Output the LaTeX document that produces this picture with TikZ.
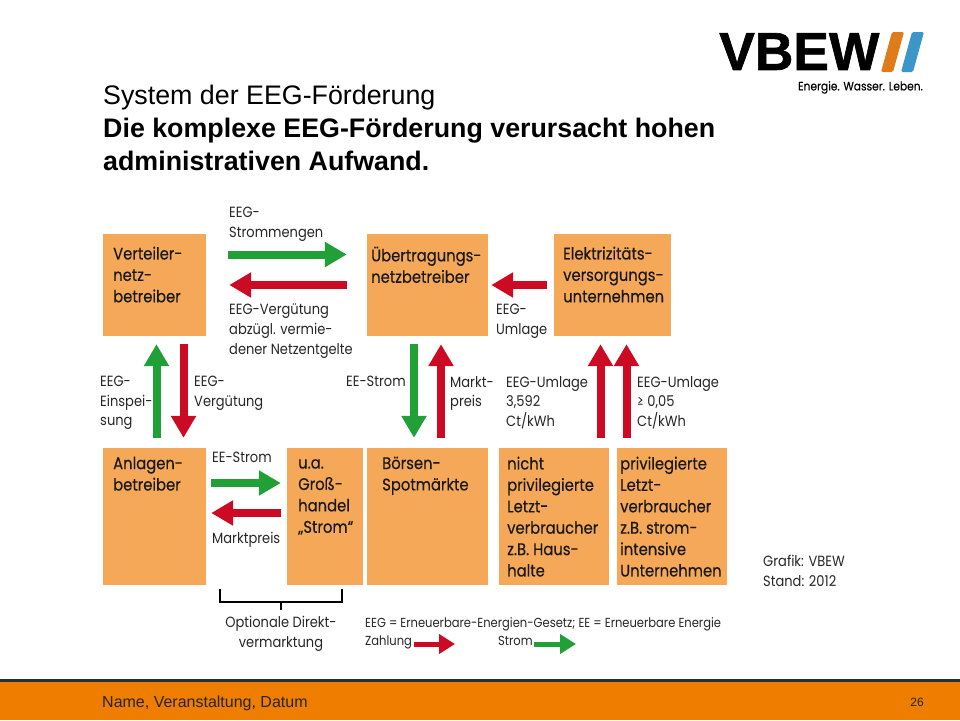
\documentclass[tikz,border=0pt]{standalone}
\usepackage{fontspec}
\setmainfont{Liberation Sans}
\newfontfamily\diafont[FakeStretch=0.88]{Poppins}
\newfontfamily\dialight[FakeStretch=0.88,FakeBold=0.25]{Poppins}
\newfontfamily\logofont[FakeBold=1.2]{Liberation Sans Bold}
\usetikzlibrary{arrows.meta}
\definecolor{boxorange}{HTML}{F5A858}
\definecolor{barorange}{HTML}{EF7D00}
\definecolor{bardark}{HTML}{263030}
\definecolor{stromgreen}{HTML}{22A038}
\definecolor{zahlred}{HTML}{CC0A24}
\definecolor{logoblue}{HTML}{3C97C8}
\definecolor{logoorange}{HTML}{E07B1A}
\tikzset{
  orangebox/.style={fill=boxorange, inner sep=0pt, minimum height=102pt},
  lowbox/.style={orangebox, minimum height=137pt},
  boxtext/.style={anchor=north west, align=left, inner sep=0pt, font=\dialight\fontsize{16.8}{21.4}\selectfont, text=black!90},
  note/.style={anchor=north west, align=left, inner sep=0pt, font=\diafont\fontsize{14.8}{19.6}\selectfont, text=black!85},
  smallnote/.style={note, font=\diafont\fontsize{13.1}{19}\selectfont},
  heading/.style={anchor=north west, align=left, inner sep=0pt, font=\fontsize{26.8}{33}\selectfont},
  strom/.style={-{Triangle[length=22pt,width=24pt]}, line width=8pt, stromgreen},
  zahlung/.style={-{Triangle[length=22pt,width=24pt]}, line width=8pt, zahlred},
  keystrom/.style={-{Triangle[length=16pt,width=19pt]}, line width=5pt, stromgreen},
  keyzahlung/.style={-{Triangle[length=16pt,width=19pt]}, line width=5pt, zahlred}
}
\begin{document}
\begin{tikzpicture}[x=1pt,y=-1pt]
  \useasboundingbox (0,0) rectangle (960,720);
  % footer
  \fill[barorange] (0,682) rectangle (960,720);
  \fill[bardark] (0,679) rectangle (960,682);
  \node[anchor=west, inner sep=0pt, font=\fontsize{16}{18}\selectfont, text=black!85] (event) at (102,703) {Name, Veranstaltung, Datum};
  \node[anchor=center, inner sep=0pt, font=\fontsize{12}{14}\selectfont, text=black!85] (pagenum) at (917,702) {26};
  % logo
  \node[anchor=north west, inner sep=0pt, font=\logofont\fontsize{53.4}{54}\selectfont] (logo) at (719,33) {VBEW};
  \fill[logoorange, rounded corners=1.5pt] (892,32) -- (904,32) -- (893,72) -- (881,72) -- cycle;
  \fill[logoblue, rounded corners=1.5pt] (912,32) -- (924,32) -- (913,72) -- (901,72) -- cycle;
  \node[anchor=north east, inner sep=0pt, font=\dialight\fontsize{12.1}{14}\selectfont] (claim) at (923,81) {Energie. Wasser. Leben.};
  % title
  \node[heading] (title) at (103,84.5) {System der EEG-Förderung\\\textbf{Die komplexe EEG-Förderung verursacht hohen}\\\textbf{administrativen Aufwand.}};
  % boxes
  \node[orangebox, minimum width=103pt] (vnb) at (154.5,285) {};
  \node[orangebox, minimum width=121pt] (uenb) at (427.5,285) {};
  \node[orangebox, minimum width=117pt] (evu) at (612.5,285) {};
  \node[lowbox, minimum width=103pt] (anlage) at (154.5,516.5) {};
  \node[lowbox, minimum width=76pt] (handel) at (325,516.5) {};
  \node[lowbox, minimum width=121pt] (boerse) at (427.5,516.5) {};
  \node[lowbox, minimum width=110pt] (nichtpriv) at (554,516.5) {};
  \node[lowbox, minimum width=110pt] (priv) at (672,516.5) {};
  % box texts
  \node[boxtext] (vnbtext) at (113,246.5) {Verteiler-\\netz-\\betreiber};
  \node[boxtext] (uenbtext) at (371,246.5) {Übertragungs-\\netzbetreiber};
  \node[boxtext] (evutext) at (563,246.5) {Elektrizitäts-\\versorgungs-\\unternehmen};
  \node[boxtext] (anlagetext) at (113,456.5) {Anlagen-\\betreiber};
  \node[boxtext] (handeltext) at (298,459) {u.a.\\Groß-\\handel\\„Strom“};
  \node[boxtext] (boersetext) at (382,456.5) {Börsen-\\Spotmärkte};
  \node[boxtext] (nichtprivtext) at (507,456.5) {nicht\\privilegierte\\Letzt-\\verbraucher\\z.B. Haus-\\halte};
  \node[boxtext] (privtext) at (620,456.5) {privilegierte\\Letzt-\\verbraucher\\z.B. strom-\\intensive\\Unternehmen};
  % arrows
  \draw[strom, shorten <=22pt, shorten >=20pt] ([shift={(0,-30.5)}]vnb.east) -- ([shift={(0,-30.5)}]uenb.west);
  \draw[zahlung, shorten <=20pt, shorten >=23pt] (uenb.west) -- (vnb.east);
  \draw[zahlung, shorten <=7pt, shorten >=3pt] (evu.west) -- (uenb.east);
  \draw[strom, shorten <=10pt, shorten >=8pt] ([shift={(2,0)}]anlage.north) -- ([shift={(2,0)}]vnb.south);
  \draw[zahlung, shorten <=8pt, shorten >=10pt] ([shift={(29,0)}]vnb.south) -- ([shift={(29,0)}]anlage.north);
  \draw[strom, shorten <=8pt, shorten >=10pt] ([shift={(-13.5,0)}]uenb.south) -- ([shift={(-13.5,0)}]boerse.north);
  \draw[zahlung, shorten <=10pt, shorten >=8pt] ([shift={(13.5,0)}]boerse.north) -- ([shift={(13.5,0)}]uenb.south);
  \draw[zahlung, shorten <=10pt, shorten >=8pt] ([shift={(46.5,0)}]nichtpriv.north) -- ([shift={(-12,0)}]evu.south);
  \draw[zahlung, shorten <=10pt, shorten >=8pt] ([shift={(-45.5,0)}]priv.north) -- ([shift={(14,0)}]evu.south);
  \draw[strom, shorten <=5pt, shorten >=6pt] ([shift={(0,-33.5)}]anlage.east) -- ([shift={(0,-33.5)}]handel.west);
  \draw[zahlung, shorten <=6pt, shorten >=5pt] ([shift={(0,-3.5)}]handel.west) -- ([shift={(0,-3.5)}]anlage.east);
  % arrow labels
  \node[note] (stromlabel) at (229,207) {EEG-\\Strommengen};
  \node[note] (verglabel) at (229,304) {EEG-Vergütung\\abzügl. vermie-\\dener Netzentgelte};
  \node[note] (einspeis) at (100,376) {EEG-\\Einspei-\\sung};
  \node[note] (verguetung) at (194,376) {EEG-\\Vergütung};
  \node[note] (eestromup) at (346,376) {EE-Strom};
  \node[note] (marktpreisup) at (450,376) {Markt-\\preis};
  \node[note] (umlage) at (496,304) {EEG-\\Umlage};
  \node[note] (umlagea) at (506,376) {EEG-Umlage\\3,592\\Ct/kWh};
  \node[note] (umlageb) at (637,376) {EEG-Umlage\\≥ 0,05\\Ct/kWh};
  \node[note] (eestromlow) at (212,452) {EE-Strom};
  \node[note] (marktpreislow) at (212,532) {Marktpreis};
  \node[note] (grafik) at (763,555) {Grafik: VBEW\\Stand: 2012};
  % bracket
  \coordinate (bracketleft) at (220,589);
  \coordinate (bracketright) at (342,589);
  \coordinate (bracketmid) at (281,602);
  \coordinate (bracketend) at (281,610);
  \draw[line width=2pt] (bracketleft) |- (bracketmid) -| (bracketright);
  \draw[line width=2pt] (bracketmid) -- (bracketend);
  \node[note, anchor=north, align=center] (direkt) at (281,616) {Optionale Direkt-\\vermarktung};
  % key
  \node[smallnote] (keyline) at (365,617) {EEG = Erneuerbare-Energien-Gesetz; EE = Erneuerbare Energie};
  \node[smallnote] (keypay) at (365,636) {Zahlung};
  \node[smallnote] (keypower) at (498,636) {Strom};
  \coordinate (payend) at (455,644);
  \coordinate (powerend) at (576,644);
  \draw[keyzahlung] (414,644) -- (payend);
  \draw[keystrom] (534,644) -- (powerend);
\end{tikzpicture}
\end{document}
